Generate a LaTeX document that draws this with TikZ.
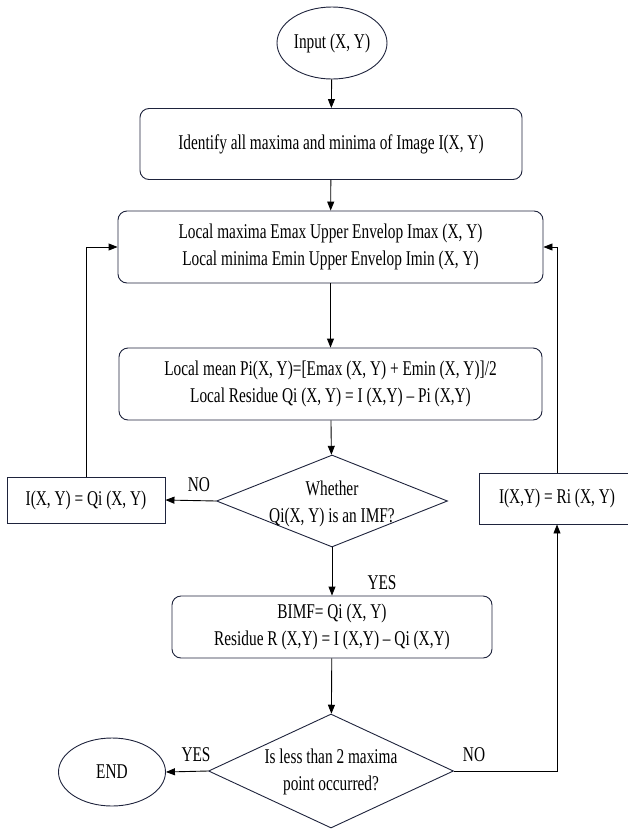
\documentclass[tikz,border=0pt]{standalone}
\usepackage{fontspec}
\setmainfont{Liberation Serif}[FakeStretch=0.73]
\usetikzlibrary{shapes.geometric,arrows.meta}
\definecolor{edge}{RGB}{30,35,60}
\tikzset{
  base/.style={draw=edge, line width=0.9pt, align=center, inner sep=0pt,
    font=\fontsize{21}{27}\selectfont},
  rbox/.style={base, rectangle, rounded corners=9pt},
  sbox/.style={base, rectangle},
  oval/.style={base, ellipse},
  dia/.style={base, diamond},
  txt/.style={align=center, inner sep=0pt, font=\fontsize{21}{27}\selectfont},
  arr/.style={line width=0.9pt, -{Triangle[length=9pt,width=7pt]}},
  lab/.style={inner sep=0pt, font=\fontsize{21}{24}\selectfont}
}
\begin{document}
\begin{tikzpicture}[x=1pt,y=-1pt]
\useasboundingbox (0,0) rectangle (628,830);
\node[oval, minimum width=110pt, minimum height=72pt] (in) at (332,43) {Input (X, Y)};
\node[rbox, minimum width=382pt, minimum height=71pt] (id) at (331,144) {Identify all maxima and minima of Image I(X, Y)};
\node[rbox, minimum width=425pt, minimum height=72pt] (env) at (330.5,247) {Local maxima Emax Upper Envelop Imax (X, Y)\\Local minima Emin Upper Envelop Imin (X, Y)};
\node[rbox, minimum width=423pt, minimum height=72pt] (mean) at (330.5,384) {Local mean Pi(X, Y)=[Emax (X, Y) + Emin (X, Y)]/2\\Local Residue Qi (X, Y) = I (X,Y) -- Pi (X,Y)};
\node[dia, minimum width=231pt, minimum height=92pt] (d1) at (332,501) {};
\node[txt] (d1t) at (332,504) {Whether\\Qi(X, Y) is an IMF?};
\node[sbox, minimum width=158pt, minimum height=46pt] (lb) at (86,500) {I(X, Y) = Qi (X, Y)};
\node[sbox, minimum width=156pt, minimum height=51pt] (rb) at (557,498.5) {I(X,Y) = Ri (X, Y)};
\node[rbox, minimum width=320pt, minimum height=62pt] (bimf) at (332,627) {BIMF= Qi (X, Y)\\Residue R (X,Y) = I (X,Y) -- Qi (X,Y)};
\node[dia, minimum width=245pt, minimum height=114pt] (d2) at (331,771) {};
\node[txt] (d2t) at (331,772) {Is less than 2 maxima\\point occurred?};
\node[oval, minimum width=107pt, minimum height=68pt] (end) at (112,772) {END};

\draw[arr] (in) -- (id);
\draw[arr] (id) -- (env);
\draw[arr] (env) -- (mean);
\draw[arr] (mean) -- (d1);
\draw[arr] (d1.west) -- (lb.east);
\node[lab] (no1) at (199,485) {NO};
\draw[arr] (lb.north) |- (env.west);
\draw[arr] (d1.south) -- (bimf.north);
\node[lab] (yes1) at (382,583) {YES};
\draw[arr] (bimf) -- (d2);
\draw[arr] (d2.west) -- (end.east);
\node[lab] (yes2) at (196,755) {YES};
\draw[arr] (d2.east) -| (rb.south);
\node[lab] (no2) at (474,755) {NO};
\draw[arr] (rb.north) |- (env.east);
\end{tikzpicture}
\end{document}
